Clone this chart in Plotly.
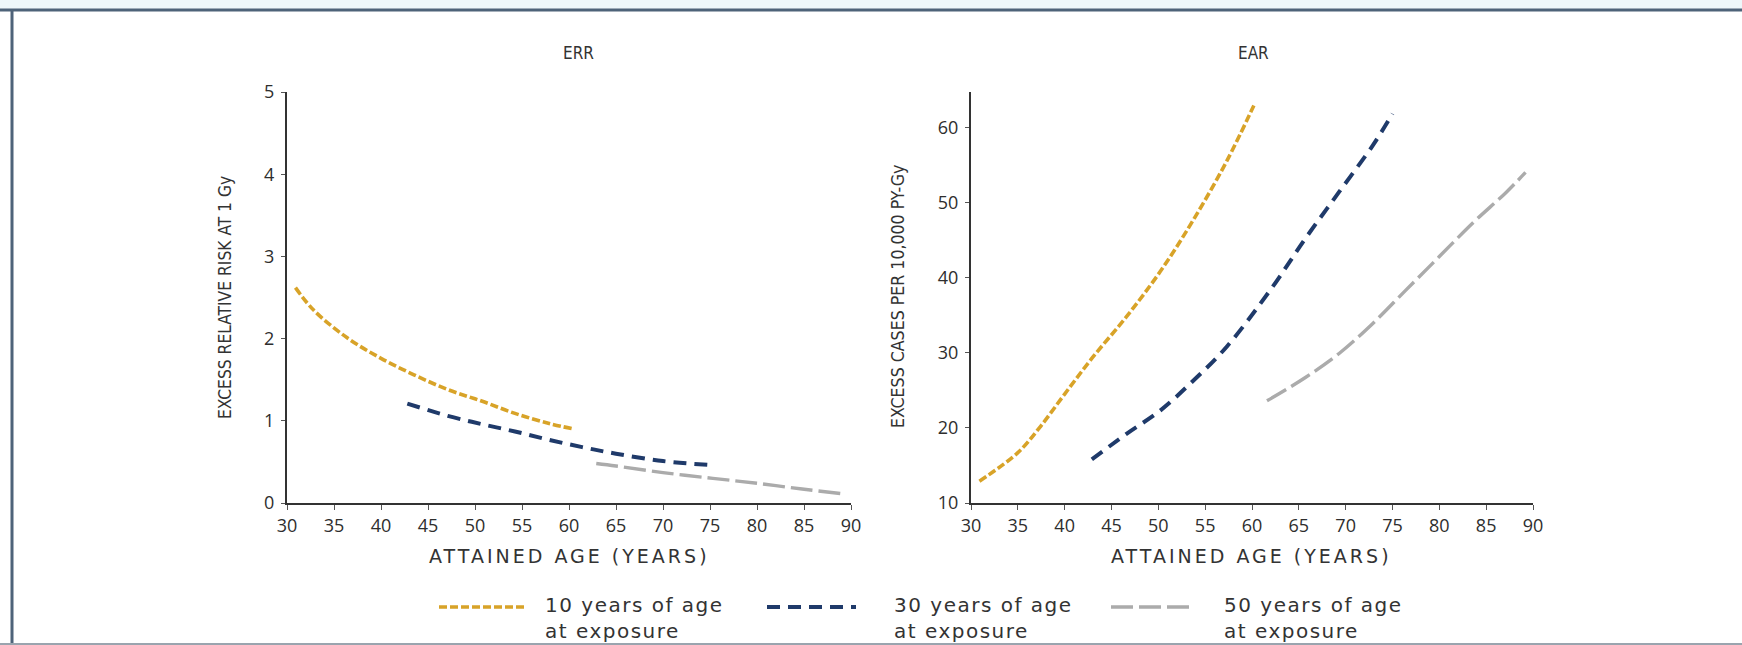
import plotly.graph_objects as go

W, H = 1742, 645

# ---------------- data ----------------
series_names = ["10 years of age<br>at exposure", "30 years of age<br>at exposure", "50 years of age<br>at exposure"]
series_colors = ["#D8A328", "#1F3A6A", "#ABABAB"]
series_dashes = ["8px,3px", "13px,8px", "22px,6px"]
series_widths = [3.6, 4.0, 3.4]

# ERR panel
err10_age = [30.9, 32.8, 36.4, 40.0, 43.5, 47.1, 50.7, 54.25, 57.8, 60.5]
err10_val = [2.62, 2.35, 2.01, 1.76, 1.56, 1.38, 1.24, 1.09, 0.97, 0.90]
err30_age = [42.8, 47.1, 50.7, 54.25, 57.8, 61.4, 65.0, 70.0, 75.3]
err30_val = [1.21, 1.06, 0.96, 0.87, 0.77, 0.68, 0.60, 0.51, 0.46]
err50_age = [62.9, 65.0, 70.0, 75.3, 80.0, 84.8, 89.3]
err50_val = [0.48, 0.45, 0.37, 0.30, 0.24, 0.17, 0.11]

# EAR panel
ear10_age = [30.9, 35.0, 37.3, 40.0, 43.0, 46.6, 50.2, 53.75, 57.3, 60.2]
ear10_val = [12.9, 16.7, 20.0, 24.5, 29.4, 34.8, 40.8, 47.7, 55.5, 62.9]
ear30_age = [42.9, 46.6, 50.2, 53.75, 57.3, 62.1, 65.7, 69.3, 72.9, 75.0]
ear30_val = [15.8, 19.2, 22.3, 26.3, 30.8, 38.6, 45.2, 51.4, 57.6, 61.8]
ear50_age = [61.6, 65.7, 69.3, 72.9, 76.4, 80.0, 83.6, 87.1, 89.2]
ear50_val = [23.6, 26.7, 29.9, 33.9, 38.3, 42.8, 47.3, 51.3, 54.0]

x_ticks = [30, 35, 40, 45, 50, 55, 60, 65, 70, 75, 80, 85, 90]
err_ticks = [0, 1, 2, 3, 4, 5]
ear_ticks = [10, 20, 30, 40, 50, 60]

panel_titles = ["ERR", "EAR"]
x_title = "ATTAINED AGE (YEARS)"
err_y_title = "EXCESS RELATIVE RISK AT 1 Gy"
ear_y_title = "EXCESS CASES PER 10,000 PY-Gy"

# ---------------- figure ----------------
def px_x(p):
    return p / W

def px_y(p):
    return 1 - p / H

fig = go.Figure()

err_sets = [(err10_age, err10_val), (err30_age, err30_val), (err50_age, err50_val)]
ear_sets = [(ear10_age, ear10_val), (ear30_age, ear30_val), (ear50_age, ear50_val)]

for i, (xs, ys) in enumerate(err_sets):
    fig.add_trace(go.Scatter(x=xs, y=ys, mode="lines", line_shape="spline",
                             line=dict(color=series_colors[i], dash=series_dashes[i], width=series_widths[i]),
                             name=series_names[i], showlegend=False, xaxis="x", yaxis="y"))
for i, (xs, ys) in enumerate(ear_sets):
    fig.add_trace(go.Scatter(x=xs, y=ys, mode="lines", line_shape="spline",
                             line=dict(color=series_colors[i], dash=series_dashes[i], width=series_widths[i]),
                             name=series_names[i], showlegend=False, xaxis="x2", yaxis="y2"))

tick_font = dict(family="Open Sans, DejaVu Sans, sans-serif", size=18, color="#2E2E2E")
narrow = "DejaVu Sans Condensed, Liberation Sans Narrow, Liberation Sans, sans-serif"

common_x = dict(range=[30, 90], tickvals=x_ticks, showline=True, linecolor="#333333", linewidth=2,
                ticks="outside", ticklen=5, tickcolor="#555555", tickwidth=1, automargin=False,
                showgrid=False, zeroline=False, tickfont=tick_font, fixedrange=True)
common_y = dict(showline=True, linecolor="#333333", linewidth=2, ticks="outside", ticklen=4,
                tickcolor="#555555", tickwidth=1, showgrid=False, zeroline=False, automargin=False,
                tickfont=tick_font, fixedrange=True, ticklabelstandoff=3)

y_dom = [px_y(503), px_y(92)]

fig.update_layout(
    width=W, height=H,
    margin=dict(l=0, r=0, t=0, b=0, pad=0, autoexpand=False),
    paper_bgcolor="white", plot_bgcolor="white",
    xaxis=dict(domain=[px_x(287), px_x(851)], anchor="y", **common_x),
    yaxis=dict(domain=y_dom, anchor="x", range=[0, 5], tickvals=err_ticks, **common_y),
    xaxis2=dict(domain=[px_x(971), px_x(1533)], anchor="y2", **common_x),
    yaxis2=dict(domain=y_dom, anchor="x2", range=[10, 64.7], tickvals=ear_ticks, **common_y),
    showlegend=False,
)

annotations = []
for t, cx in zip(panel_titles, [578, 1253]):
    annotations.append(dict(text=t, x=px_x(cx), y=px_y(53), xref="paper", yref="paper",
                            showarrow=False, xanchor="center", yanchor="middle",
                            font=dict(family=narrow, size=17, color="#333333")))
for cx in [569, 1251]:
    annotations.append(dict(text='<span style="letter-spacing:3px">' + x_title + '</span>',
                            x=px_x(cx), y=px_y(556), xref="paper", yref="paper",
                            showarrow=False, xanchor="center", yanchor="middle",
                            font=dict(family="DejaVu Sans, sans-serif", size=19, color="#333333")))
for t, cx, fs in [(err_y_title, 225, 17.3), (ear_y_title, 898, 17.6)]:
    annotations.append(dict(text=t, x=px_x(cx), y=px_y(297), xref="paper", yref="paper",
                            showarrow=False, xanchor="center", yanchor="middle", textangle=-90,
                            font=dict(family=narrow, size=fs, color="#333333")))

legend_sample_x = [(439, 526), (767, 856), (1111, 1194)]
legend_text_x = [543, 892, 1222]
shapes = []
# faint tinted strip above the frame
shapes.append(dict(type="rect", xref="paper", yref="paper", x0=0, x1=1, y0=px_y(9), y1=1,
                   fillcolor="#EEF7FA", line=dict(width=0), layer="below"))
sp = '<span style="letter-spacing:1.5px">'
for i in range(3):
    x0, x1 = legend_sample_x[i]
    shapes.append(dict(type="line", xref="paper", yref="paper", x0=px_x(x0), x1=px_x(x1),
                       y0=px_y(607), y1=px_y(607),
                       line=dict(color=series_colors[i], dash=series_dashes[i], width=series_widths[i])))
    annotations.append(dict(text=sp + series_names[i].replace("<br>", "</span><br>" + sp) + "</span>",
                            x=px_x(legend_text_x[i]), y=px_y(618), xref="paper", yref="paper",
                            showarrow=False, xanchor="left", yanchor="middle", align="left",
                            font=dict(family="DejaVu Sans, sans-serif", size=20, color="#333333")))

# outer frame
shapes.append(dict(type="line", xref="paper", yref="paper", x0=0, x1=1, y0=px_y(10), y1=px_y(10),
                   line=dict(color="#4E6379", width=3)))
shapes.append(dict(type="line", xref="paper", yref="paper", x0=px_x(12), x1=px_x(12), y0=px_y(644), y1=px_y(10),
                   line=dict(color="#4E6379", width=3)))
shapes.append(dict(type="line", xref="paper", yref="paper", x0=0, x1=1, y0=px_y(644), y1=px_y(644),
                   line=dict(color="#9AA4AE", width=2)))

fig.update_layout(annotations=annotations, shapes=shapes)

fig.write_html("out.html", config={"displayModeBar": False},
               post_script="document.body.style.margin='0px';")
